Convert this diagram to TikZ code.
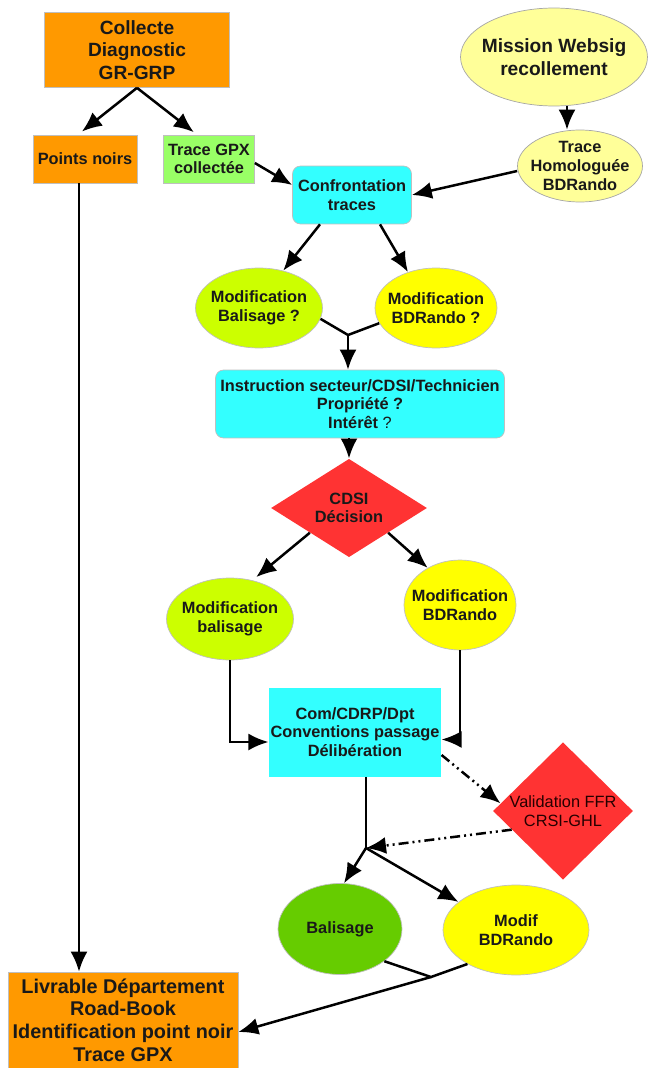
\documentclass[tikz,border=0pt]{standalone}
\usepackage{fontspec}
\setmainfont{Liberation Sans}
\usepackage{tikz}
\usetikzlibrary{shapes.geometric}
\usetikzlibrary{arrows.meta}
\usetikzlibrary{positioning}
\usetikzlibrary{calc}

\definecolor{orangebox}{HTML}{FF9900}
\definecolor{greengpx}{HTML}{99FF66}
\definecolor{cyanbox}{HTML}{33FFFF}
\definecolor{paleyellow}{HTML}{FFFF99}
\definecolor{limebox}{HTML}{CCFF00}
\definecolor{yellowbox}{HTML}{FFFF00}
\definecolor{redbox}{HTML}{FF3333}
\definecolor{greenbox}{HTML}{66CC00}

\newcommand{\bigtxt}{\fontsize{10.9}{12.8}\selectfont\bfseries}
\newcommand{\midtxt}{\fontsize{9.3}{10.6}\selectfont\bfseries}
\newcommand{\thintxt}{\fontsize{9.3}{10.6}\selectfont}

\begin{document}
\begin{tikzpicture}[x=0.02cm, y=-0.02cm, >={Latex[length=4mm,width=3.4mm]},
  every node/.style={align=center, font=\midtxt, text=black!90},
  box/.style={rectangle, draw=black!25, inner sep=1pt},
  blob/.style={ellipse, draw=black!25, inner xsep=-2mm, inner ysep=0pt},
  losange/.style={diamond, inner sep=0pt},
  flow/.style={line width=0.5mm},
  maybe/.style={flow, dash pattern={on 2mm off 0.8mm on 0.4mm off 0.8mm on 0.4mm off 0.8mm}}]
  \useasboundingbox (0,0) rectangle (650,1068);

  % top row
  \node[box, fill=orangebox, minimum width=3.7cm, minimum height=1.5cm, font=\bigtxt] (collecte) at (137,50) {Collecte\\Diagnostic\\GR-GRP};
  \node[blob, fill=paleyellow, draw=black!35, minimum width=3.74cm, minimum height=1.96cm, font=\bigtxt] (mission) at (554,57) {Mission Websig\\recollement};
  \node[box, fill=orangebox, minimum width=2.08cm, minimum height=0.96cm] (points) at (85,159) {Points noirs};
  \node[box, fill=greengpx, minimum width=1.82cm, minimum height=0.96cm] (gpx) at (209,159) {Trace GPX\\collectée};
  \node[blob, fill=paleyellow, draw=black!35, minimum width=2.5cm, minimum height=1.44cm] (homol) at (580,166) {Trace\\Homologuée\\BDRando};
  \node[box, fill=cyanbox, rounded corners=1.6mm, minimum width=2.38cm, minimum height=1.16cm] (conf) at (352,195) {Confrontation\\traces};

  % instruction
  \node[blob, fill=limebox, minimum width=2.54cm, minimum height=1.6cm] (modbal) at (259,308) {Modification\\Balisage ?};
  \node[blob, fill=yellowbox, minimum width=2.44cm, minimum height=1.6cm] (modbd) at (436,308) {Modification\\BDRando ?};
  \node[box, fill=cyanbox, rounded corners=1.6mm, minimum width=5.78cm, minimum height=1.36cm] (instr) at (360,404) {Instruction secteur/CDSI/Technicien\\Propriété ?\\Intérêt {\mdseries ?}};
  \node[losange, fill=redbox, minimum width=3.12cm, minimum height=1.82cm] (cdsi) at (349,508) {CDSI\\Décision};
  \node[blob, fill=limebox, minimum width=2.54cm, minimum height=1.64cm] (modbal2) at (230,619) {Modification\\balisage};
  \node[blob, fill=yellowbox, minimum width=2.24cm, minimum height=1.8cm] (modbd2) at (460,605) {Modification\\BDRando};
  \node[box, fill=cyanbox, draw=none, minimum width=3.42cm, minimum height=1.78cm] (com) at (355,732) {Com/CDRP/Dpt\\Conventions passage\\Délibération};
  \node[losange, fill=redbox, minimum width=2.8cm, minimum height=2.64cm, font=\thintxt, text=black!85!red] (valid) at (563,811) {Validation FFR\\CRSI-GHL};

  % realisation
  \node[blob, fill=greenbox, minimum width=2.48cm, minimum height=1.82cm] (bal) at (340,929) {Balisage};
  \node[blob, fill=yellowbox, minimum width=2.92cm, minimum height=1.8cm] (modif) at (516,930) {Modif\\BDRando};
  \node[box, fill=orangebox, minimum width=4.6cm, minimum height=1.92cm, font=\fontsize{11.3}{12.9}\selectfont\bfseries] (livrable) at (123,1020) {Livrable Département\\Road-Book\\Identification point noir\\Trace GPX};

  \coordinate (j1) at (348,335);
  \coordinate (j2) at (366,848);
  \coordinate (j3) at (431,977);

  \path[flow, ->]
    (collecte.south) edge[shorten >=1mm] ([xshift=-1.4mm]points.north)
                     edge[shorten >=0.8mm] ([xshift=-2.4mm]gpx.north)
    ([yshift=-0.8mm]gpx.east) edge ([yshift=2mm]conf.west)
    ([xshift=-2.6mm]homol.north |- mission.south) edge ([xshift=-2.6mm]homol.north)
    ([yshift=-1mm]homol.west) edge (conf.east)
    ([xshift=-6.4mm]conf.south) edge (modbal.57)
    ([xshift=5.6mm]conf.south)  edge (modbd.128)
    (j1)             edge (j1 |- instr.north)
    (cdsi.north |- instr.south) edge (cdsi.north)
    (cdsi.south west) edge[shorten >=1mm] (modbal2.60)
    (cdsi.south east) edge (modbd2.131)
    (j2)             edge (bal.85)
                     edge (modif.154)
    (j3)             edge ([yshift=-2.4mm]livrable.east);

  \draw[flow, ->] ([xshift=-1.2mm]points.south) -- ([xshift=-1.2mm]points.south |- livrable.north);
  \draw[flow] (modbal.350) -- (j1) -- (modbd.195);
  \draw[flow, ->] (modbal2.south) |- ([yshift=-2mm]com.west);
  \draw[flow, ->] (modbd2.south) |- ([yshift=-1.5mm]com.east);
  \draw[flow] (com.south -| j2) -- (j2);
  \draw[maybe, ->] ([yshift=-4.6mm]com.east) -- (valid.173);
  \draw[maybe, ->] (valid.200) -- (j2);
  \draw[flow] (bal.324) -- (j3) -- (modif.215);
\end{tikzpicture}
\end{document}
